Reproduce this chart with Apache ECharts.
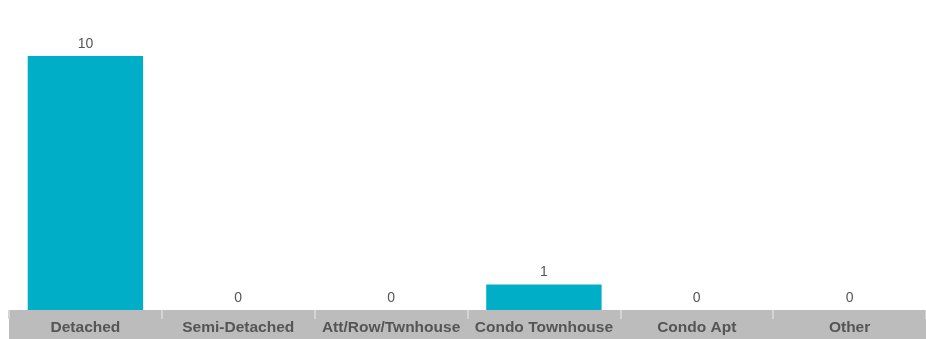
<!DOCTYPE html>
<html><head><meta charset="utf-8">
<script src="https://cdn.jsdelivr.net/npm/echarts@6/dist/echarts.min.js"></script>
<style>html,body{margin:0;padding:0;background:#fff}#c{width:926px;height:339px}</style>
</head><body><div id="c"></div>
<script>
const categories = ["Detached","Semi-Detached","Att/Row/Twnhouse","Condo Townhouse","Condo Apt","Other"];
const values = [10,0,0,1,0,0];

const chart = echarts.init(document.getElementById('c'));
chart.setOption({
  animation:false,
  grid:{left:9,width:922,top:56,bottom:29,containLabel:false},
  graphic:[{type:'rect',left:9,bottom:0,shape:{width:917,height:29},style:{fill:'#bcbcbc'},z:-10}],
  xAxis:{type:'category',data:categories,
    axisLine:{show:false},
    axisTick:{show:true,interval:0,inside:false,length:9,lineStyle:{color:'#d4d4d4',width:2}},
    axisLabel:{interval:0,color:'#555',fontWeight:'bold',fontSize:15.5,fontFamily:'Liberation Sans, Arial, sans-serif',margin:10}},
  yAxis:{type:'value',min:0,max:10,show:false,splitLine:{show:false}},
  series:[{type:'bar',data:values,barCategoryGap:'24.5%',
    itemStyle:{color:'#00aec7'},
    label:{show:true,position:'top',color:'#555',fontSize:14,fontFamily:'Liberation Sans, Arial, sans-serif',distance:5}}]
});
</script></body></html>
